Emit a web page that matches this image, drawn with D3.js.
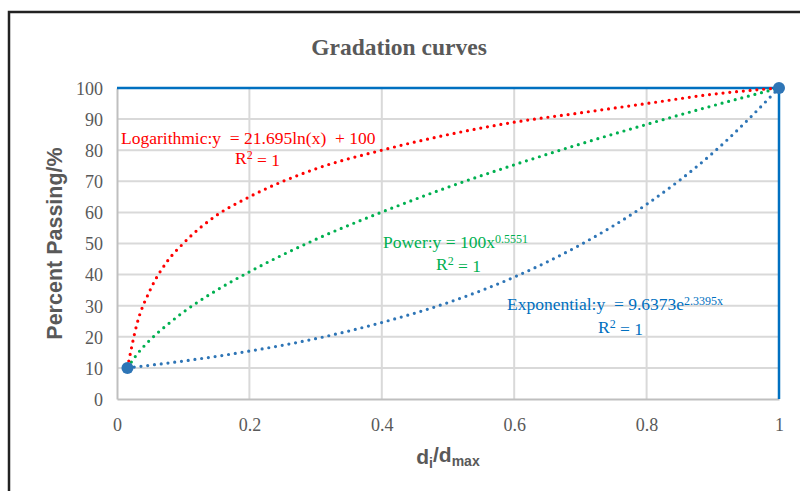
<!DOCTYPE html>
<html>
<head>
<meta charset="utf-8">
<script src="https://cdn.jsdelivr.net/npm/d3@7"></script>
<style>
  body { margin: 0; background: #fff; }
  svg { display: block; }
</style>
</head>
<body>
<div id="chart"></div>
<script>
// values
const xLog = [0.0158, 0.03, 0.05, 0.075, 0.1, 0.15, 0.2, 0.3, 0.4, 0.5, 0.6, 0.7, 0.8, 0.9, 1];
const yLog = [10, 24, 35, 44, 50, 59, 65, 74, 80, 85, 89, 92, 95, 98, 100];
const xPow = [0.0158, 0.03, 0.05, 0.075, 0.1, 0.15, 0.2, 0.3, 0.4, 0.5, 0.6, 0.7, 0.8, 0.9, 1];
const yPow = [10, 14.3, 19, 23.7, 27.9, 34.9, 40.9, 51.3, 60.1, 68.1, 75.3, 82, 88.3, 94.3, 100];
const xExp = [0.0158, 0.1, 0.2, 0.3, 0.4, 0.5, 0.6, 0.7, 0.8, 0.9, 1];
const yExp = [10, 12.2, 15.4, 19.4, 24.6, 31, 39.2, 49.6, 62.6, 79.1, 100];
const pointsX = [0.0158, 1];
const pointsY = [10, 100];
const xTicks = [0, 0.2, 0.4, 0.6, 0.8, 1];
const yTicks = [0, 10, 20, 30, 40, 50, 60, 70, 80, 90, 100];

const W = 800, H = 491;
const margin = { top: 88, right: 21, bottom: 92, left: 117 };
const width = W - margin.left - margin.right;
const height = H - margin.top - margin.bottom;

const svg = d3.select("#chart").append("svg")
    .attr("width", W)
    .attr("height", H);

// outer frame
svg.append("rect")
    .attr("x", 9).attr("y", 12)
    .attr("width", 820).attr("height", 500)
    .attr("fill", "none")
    .attr("stroke", "#222")
    .attr("stroke-width", 2.5);

const g = svg.append("g")
    .attr("transform", "translate(" + margin.left + "," + margin.top + ")");

const x = d3.scaleLinear().domain([0, 1]).range([0, width]);
const y = d3.scaleLinear().domain([0, 100]).range([height, 0]);

// gridlines
g.append("g").selectAll("line")
    .data(yTicks.filter(d => d > 0))
    .join("line")
    .attr("x1", 0).attr("x2", width)
    .attr("y1", d => y(d)).attr("y2", d => y(d))
    .attr("stroke", "#d9d9d9").attr("stroke-width", 2);

g.append("g").selectAll("line")
    .data(xTicks.filter(d => d > 0 && d < 1))
    .join("line")
    .attr("x1", d => x(d)).attr("x2", d => x(d))
    .attr("y1", 0).attr("y2", height)
    .attr("stroke", "#d9d9d9").attr("stroke-width", 2);

// axes
const yAxis = d3.axisLeft(y).tickValues(yTicks).tickSize(0).tickPadding(14);
const xAxis = d3.axisBottom(x).tickValues(xTicks).tickSize(0).tickPadding(16)
    .tickFormat(d => d3.format("~g")(d));

const gy = g.append("g").call(yAxis);
const gx = g.append("g").attr("transform", "translate(0," + height + ")").call(xAxis);

[gx, gy].forEach(a => {
    a.select(".domain").attr("stroke", "#bfbfbf").attr("stroke-width", 2);
    a.selectAll("text")
        .attr("fill", "#595959")
        .style("font-family", "'Liberation Serif', 'Times New Roman', serif")
        .style("font-size", "18px");
});
gy.selectAll("text").attr("dy", "0.35em");
gx.selectAll("text").attr("dy", "0.9em");

// blue frame lines on top and right
g.append("line")
    .attr("x1", 0).attr("x2", x(1))
    .attr("y1", y(100)).attr("y2", y(100))
    .attr("stroke", "#0070c0").attr("stroke-width", 2.5);
g.append("line")
    .attr("x1", x(1)).attr("x2", x(1))
    .attr("y1", y(100)).attr("y2", y(0))
    .attr("stroke", "#0070c0").attr("stroke-width", 2.5);

// trend curves
const line = d3.line()
    .x(d => x(d[0]))
    .y(d => y(d[1]))
    .curve(d3.curveMonotoneX);

const curves = [
    { xs: xExp, ys: yExp, color: "#2e75b6" },
    { xs: xPow, ys: yPow, color: "#00b050" },
    { xs: xLog, ys: yLog, color: "#ff0000" }
];

g.append("g").selectAll("path")
    .data(curves)
    .join("path")
    .attr("d", c => line(d3.zip(c.xs, c.ys)))
    .attr("fill", "none")
    .attr("stroke", c => c.color)
    .attr("stroke-width", 3.2)
    .attr("stroke-linecap", "round")
    .attr("stroke-dasharray", "0 6.8");

// data points
g.append("g").selectAll("circle")
    .data(d3.zip(pointsX, pointsY))
    .join("circle")
    .attr("cx", d => x(d[0]))
    .attr("cy", d => y(d[1]))
    .attr("r", 6)
    .attr("fill", "#2e75b6");

// equation labels
const serif = "'Liberation Serif', 'Times New Roman', serif";

function eqLabel(tx, ty, parts, color) {
    const t = svg.append("text")
        .attr("x", tx).attr("y", ty)
        .attr("fill", color)
        .style("font-family", serif)
        .style("font-size", "17.5px")
        .attr("xml:space", "preserve");
    parts.forEach(p => {
        const s = t.append("tspan").text(p.t);
        if (p.sup) s.attr("dy", "-0.45em").style("font-size", "12px");
        if (p.down) s.attr("dy", "0.45em");
    });
}

eqLabel(121, 144, [{ t: "Logarithmic:y  = 21.695ln(x)  + 100" }], "#ff0000");
eqLabel(235, 164, [{ t: "R" }, { t: "2", sup: true }, { t: " = 1", down: true }], "#ff0000");

eqLabel(383, 248, [{ t: "Power:y = 100x" }, { t: "0.5551", sup: true }], "#00b050");
eqLabel(436, 270, [{ t: "R" }, { t: "2", sup: true }, { t: " = 1", down: true }], "#00b050");

eqLabel(507, 310, [{ t: "Exponential:y  = 9.6373e" }, { t: "2.3395x", sup: true }], "#0070c0");
eqLabel(598, 333, [{ t: "R" }, { t: "2", sup: true }, { t: " = 1", down: true }], "#0070c0");

// title
svg.append("text")
    .attr("x", 399).attr("y", 55)
    .attr("text-anchor", "middle")
    .attr("fill", "#595959")
    .style("font-family", serif)
    .style("font-weight", "bold")
    .style("font-size", "23.5px")
    .text("Gradation curves");

// axis titles
svg.append("text")
    .attr("transform", "translate(62," + (margin.top + height / 2) + ") rotate(-90)")
    .attr("text-anchor", "middle")
    .attr("fill", "#595959")
    .style("font-family", "'Liberation Sans', Arial, sans-serif")
    .style("font-weight", "bold")
    .style("font-size", "21.5px")
    .text("Percent Passing/%");

const xt = svg.append("text")
    .attr("x", 448).attr("y", 464)
    .attr("text-anchor", "middle")
    .attr("fill", "#595959")
    .style("font-family", "'Liberation Sans', Arial, sans-serif")
    .style("font-weight", "bold")
    .style("font-size", "21px");
xt.append("tspan").text("d");
xt.append("tspan").text("i").attr("dy", "0.3em").style("font-size", "14px");
xt.append("tspan").text("/d").attr("dy", "-0.3em");
xt.append("tspan").text("max").attr("dy", "0.3em").style("font-size", "14px");
</script>
</body>
</html>
